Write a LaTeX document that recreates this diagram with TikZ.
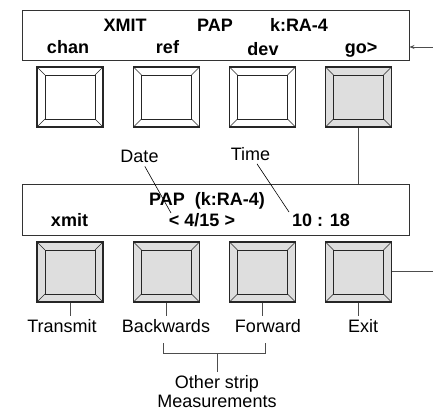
\documentclass[tikz,border=0pt]{standalone}
\usepackage{fontspec}
\setmainfont{Liberation Sans}
\usepackage{tikz}
\usetikzlibrary{arrows.meta,positioning,calc}
\definecolor{keygray}{HTML}{DEDEDE}
\definecolor{lcgray}{HTML}{4D4D4D}

\begin{document}
\begin{tikzpicture}[
x=1pt,y=-1pt,
every node/.style={font=\fontsize{18}{19}\selectfont},
disp/.style={draw=black!80,line width=0.9pt,minimum width=387pt,minimum height=50pt,inner sep=0pt},
lcd/.style={anchor=base,inner sep=0pt,font=\fontsize{18}{19}\selectfont\bfseries},
lbl/.style={anchor=base,inner sep=3pt},
btn/.style={draw=black!85,line width=1.1pt,minimum width=66pt,minimum height=60pt,inner sep=0pt,
  path picture={
    \draw[line width=0.8pt] ([shift={(8pt,8pt)}]path picture bounding box.south west)
      rectangle ([shift={(-8pt,-8pt)}]path picture bounding box.north east);
    \draw[line width=0.6pt] (path picture bounding box.south west) -- ++(8pt,8pt)
      (path picture bounding box.north west) -- ++(8pt,-8pt)
      (path picture bounding box.north east) -- ++(-8pt,-8pt)
      (path picture bounding box.south east) -- ++(-8pt,8pt);
  }},
lit/.style={btn,fill=keygray},
conn/.style={line width=0.8pt,color=lcgray},
pointer/.style={line width=0.6pt,color=black}
]
\useasboundingbox (0,0) rectangle (433,411);

% upper display and its keys
\node[disp] (d1) at (215.5,35) {};
\node[lcd] (t1) at (125,31.5) {XMIT};
\node[lcd] (t2) at (215,31.5) {PAP};
\node[lcd] (t3) at (299,31.5) {k:RA-4};
\node[lcd] (s1) at (68,54) {chan};
\node[lcd] (s2) at (167.5,54) {ref};
\node[lcd] (s3) at (263,56) {dev};
\node[lcd] (s4) at (361,54) {go>};
\foreach \i/\x in {1/70,2/166.5,3/262.5}
  \node[btn] (k\i) at (\x,97) {};
\node[lit] (k4) at (358.5,97) {};

% lower display and its keys
\node[disp,minimum height=51pt] (d2) at (215.5,209.5) {};
\node[lcd] (u1) at (207,206) {PAP\ \ (k:RA-4)};
\node[lcd] (v1) at (69.5,227) {xmit};
\node[lcd] (v2) at (202,227) {< 4/15 >};
\node[lcd] (v3) at (321,227) {10 : 18};
\foreach \i/\x in {1/70,2/166.5,3/262.5,4/358.5}
  \node[lit] (m\i) at (\x,272) {};

% labels
\node[lbl] (lDate) at (139.5,163) {Date};
\node[lbl] (lTime) at (250.5,160.5) {Time};
\node[lbl] (lTx) at (62,332.5) {Transmit};
\node[lbl] (lBack) at (166,332.5) {Backwards};
\node[lbl] (lFwd) at (268,332.5) {Forward};
\node[lbl] (lExit) at (363,332.5) {Exit};
\node[anchor=north,inner sep=3pt,align=center] (lOther) at (217,372) {Other strip\\Measurements};

\coordinate (pDate) at (171,213);
\coordinate (pTime) at (289,212);
\draw[pointer] (lDate) -- (pDate);
\draw[pointer] (lTime) -- (pTime);

% connectors
\coordinate (inA) at (433,47);
\coordinate (outB) at (433,271);
\draw[conn,-{Stealth[length=5pt,width=4pt]}] (inA) -- (inA -| d1.east);
\draw[conn] (k4.south) -- (k4.south |- d2.north);
\draw[conn] (m4.east |- outB) -- (outB);
\foreach \i/\n in {1/lTx,2/lBack,3/lFwd,4/lExit}
  \draw[conn] (m\i.south) -- (m\i.south |- \n.north);

% bracket
\coordinate (brL) at (163,343);
\coordinate (brR) at (265,343);
\coordinate (brM) at (217,353);
\draw[conn] (brL) -- ++(0,10) -| (brR);
\draw[conn] (brM) -- (lOther.north);
\end{tikzpicture}
\end{document}
